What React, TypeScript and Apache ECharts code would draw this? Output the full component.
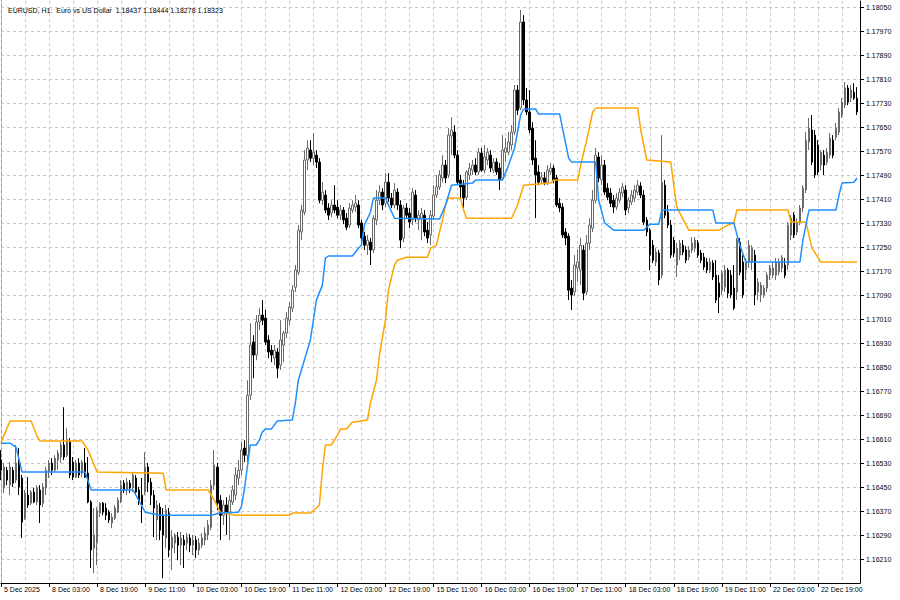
import React, { useEffect, useRef } from 'react';
import * as echarts from 'echarts';

const titleText = 'EURUSD, H1:  Euro vs US Dollar  1.18437 1.18444 1.18278 1.18323';

const opens = [
  1.16540, 1.16447, 1.16506, 1.16456, 1.16506, 1.16473, 1.16530, 1.16480, 1.16346, 1.16423,
  1.16396, 1.16433, 1.16400, 1.16440, 1.16396, 1.16447, 1.16500, 1.16530, 1.16506, 1.16540,
  1.16550, 1.16590, 1.16556, 1.16600, 1.16533, 1.16483, 1.16530, 1.16496, 1.16530, 1.16496,
  1.16400, 1.16246, 1.16266, 1.16363, 1.16396, 1.16380, 1.16366, 1.16330, 1.16346, 1.16366,
  1.16400, 1.16463, 1.16440, 1.16463, 1.16447, 1.16480, 1.16440, 1.16423, 1.16433, 1.16517,
  1.16466, 1.16423, 1.16340, 1.16383, 1.16356, 1.16280, 1.16363, 1.16246, 1.16263, 1.16283,
  1.16256, 1.16273, 1.16263, 1.16280, 1.16256, 1.16273, 1.16240, 1.16256, 1.16273, 1.16290,
  1.16316, 1.16456, 1.16516, 1.16406, 1.16356, 1.16390, 1.16366, 1.16400, 1.16423, 1.16480,
  1.16506, 1.16580, 1.16556, 1.16756, 1.16933, 1.16890, 1.17000, 1.17023, 1.17013, 1.16940,
  1.16906, 1.16880, 1.16900, 1.16856, 1.16923, 1.16963, 1.17006, 1.17046, 1.17116, 1.17166,
  1.17300, 1.17366, 1.17540, 1.17573, 1.17546, 1.17556, 1.17533, 1.17406, 1.17423, 1.17380,
  1.17363, 1.17390, 1.17383, 1.17356, 1.17373, 1.17346, 1.17323, 1.17373, 1.17383, 1.17390,
  1.17330, 1.17286, 1.17256, 1.17266, 1.17240, 1.17340, 1.17406, 1.17433, 1.17396, 1.17466,
  1.17413, 1.17390, 1.17433, 1.17390, 1.17280, 1.17380, 1.17363, 1.17340, 1.17423, 1.17340,
  1.17346, 1.17356, 1.17306, 1.17290, 1.17353, 1.17423, 1.17450, 1.17480, 1.17523, 1.17490,
  1.17620, 1.17633, 1.17556, 1.17473, 1.17456, 1.17416, 1.17490, 1.17506, 1.17523, 1.17500,
  1.17563, 1.17506, 1.17540, 1.17556, 1.17506, 1.17533, 1.17513, 1.17480, 1.17566, 1.17566,
  1.17590, 1.17633, 1.17773, 1.17713, 1.18000, 1.17740, 1.17700, 1.17646, 1.17546, 1.17500,
  1.17473, 1.17480, 1.17466, 1.17500, 1.17513, 1.17480, 1.17396, 1.17383, 1.17300, 1.17286,
  1.17113, 1.17100, 1.17180, 1.17173, 1.17240, 1.17100, 1.17263, 1.17313, 1.17406, 1.17550,
  1.17473, 1.17523, 1.17446, 1.17430, 1.17406, 1.17383, 1.17406, 1.17430, 1.17440, 1.17380,
  1.17400, 1.17413, 1.17433, 1.17453, 1.17423, 1.17340, 1.17306, 1.17256, 1.17200, 1.17230,
  1.17156, 1.17456, 1.17366, 1.17323, 1.17273, 1.17190, 1.17223, 1.17256, 1.17240, 1.17216,
  1.17240, 1.17246, 1.17263, 1.17230, 1.17216, 1.17200, 1.17173, 1.17196, 1.17156, 1.17130,
  1.17106, 1.17116, 1.17173, 1.17156, 1.17113, 1.17100, 1.17266, 1.17200, 1.17173, 1.17200,
  1.17200, 1.17223, 1.17100, 1.17090, 1.17090, 1.17113, 1.17156, 1.17156, 1.17156, 1.17166,
  1.17180, 1.17190, 1.17190, 1.17290, 1.17356, 1.17300, 1.17333, 1.17380, 1.17440, 1.17600,
  1.17640, 1.17623, 1.17590, 1.17523, 1.17556, 1.17533, 1.17556, 1.17606, 1.17616, 1.17633,
  1.17690, 1.17723, 1.17780, 1.17746, 1.17766, 1.17746
];

const closes = [
  1.16506, 1.16517, 1.16473, 1.16517, 1.16463, 1.16530, 1.16450, 1.16333, 1.16430, 1.16390,
  1.16433, 1.16400, 1.16447, 1.16390, 1.16450, 1.16506, 1.16530, 1.16506, 1.16546, 1.16563,
  1.16590, 1.16550, 1.16606, 1.16490, 1.16483, 1.16530, 1.16490, 1.16533, 1.16483, 1.16400,
  1.16240, 1.16290, 1.16373, 1.16396, 1.16366, 1.16356, 1.16340, 1.16350, 1.16380, 1.16406,
  1.16456, 1.16440, 1.16466, 1.16447, 1.16490, 1.16433, 1.16400, 1.16390, 1.16517, 1.16466,
  1.16423, 1.16380, 1.16390, 1.16306, 1.16290, 1.16373, 1.16240, 1.16283, 1.16290, 1.16256,
  1.16280, 1.16256, 1.16283, 1.16256, 1.16273, 1.16240, 1.16263, 1.16280, 1.16296, 1.16323,
  1.16456, 1.16523, 1.16396, 1.16356, 1.16390, 1.16366, 1.16406, 1.16440, 1.16490, 1.16506,
  1.16573, 1.16556, 1.16756, 1.16923, 1.16890, 1.17000, 1.17023, 1.17006, 1.16933, 1.16900,
  1.16890, 1.16906, 1.16846, 1.16940, 1.16963, 1.17013, 1.17050, 1.17106, 1.17173, 1.17306,
  1.17373, 1.17540, 1.17580, 1.17546, 1.17566, 1.17533, 1.17406, 1.17433, 1.17373, 1.17356,
  1.17390, 1.17373, 1.17356, 1.17373, 1.17340, 1.17316, 1.17380, 1.17390, 1.17396, 1.17323,
  1.17280, 1.17256, 1.17273, 1.17240, 1.17346, 1.17406, 1.17433, 1.17390, 1.17466, 1.17413,
  1.17390, 1.17440, 1.17390, 1.17273, 1.17380, 1.17356, 1.17333, 1.17433, 1.17346, 1.17356,
  1.17363, 1.17300, 1.17280, 1.17356, 1.17423, 1.17450, 1.17490, 1.17523, 1.17480, 1.17623,
  1.17640, 1.17556, 1.17466, 1.17450, 1.17413, 1.17500, 1.17513, 1.17523, 1.17500, 1.17566,
  1.17506, 1.17550, 1.17566, 1.17513, 1.17533, 1.17500, 1.17473, 1.17573, 1.17580, 1.17600,
  1.17633, 1.17773, 1.17706, 1.18000, 1.17740, 1.17700, 1.17640, 1.17540, 1.17490, 1.17466,
  1.17483, 1.17466, 1.17506, 1.17513, 1.17473, 1.17390, 1.17380, 1.17290, 1.17280, 1.17106,
  1.17090, 1.17190, 1.17200, 1.17256, 1.17096, 1.17263, 1.17323, 1.17406, 1.17556, 1.17480,
  1.17523, 1.17433, 1.17416, 1.17396, 1.17383, 1.17413, 1.17433, 1.17450, 1.17373, 1.17406,
  1.17423, 1.17440, 1.17456, 1.17423, 1.17333, 1.17300, 1.17223, 1.17206, 1.17233, 1.17140,
  1.17466, 1.17356, 1.17323, 1.17223, 1.17230, 1.17246, 1.17263, 1.17233, 1.17206, 1.17240,
  1.17263, 1.17273, 1.17223, 1.17206, 1.17183, 1.17173, 1.17200, 1.17150, 1.17073, 1.17083,
  1.17163, 1.17173, 1.17096, 1.17090, 1.17046, 1.17273, 1.17166, 1.17090, 1.17200, 1.17256,
  1.17246, 1.17090, 1.17133, 1.17123, 1.17113, 1.17156, 1.17180, 1.17180, 1.17200, 1.17200,
  1.17216, 1.17156, 1.17323, 1.17346, 1.17290, 1.17333, 1.17380, 1.17446, 1.17606, 1.17646,
  1.17533, 1.17490, 1.17500, 1.17566, 1.17523, 1.17566, 1.17613, 1.17556, 1.17646, 1.17700,
  1.17733, 1.17780, 1.17733, 1.17773, 1.17746, 1.17700
];

const lows = [
  1.16473, 1.16430, 1.16456, 1.16423, 1.16450, 1.16463, 1.16423, 1.16280, 1.16340, 1.16380,
  1.16390, 1.16396, 1.16390, 1.16330, 1.16383, 1.16423, 1.16480, 1.16490, 1.16500, 1.16506,
  1.16530, 1.16540, 1.16550, 1.16480, 1.16473, 1.16480, 1.16480, 1.16483, 1.16480, 1.16396,
  1.16180, 1.16163, 1.16190, 1.16350, 1.16356, 1.16340, 1.16330, 1.16313, 1.16340, 1.16363,
  1.16396, 1.16430, 1.16423, 1.16430, 1.16433, 1.16423, 1.16390, 1.16330, 1.16423, 1.16433,
  1.16390, 1.16283, 1.16273, 1.16273, 1.16146, 1.16246, 1.16216, 1.16173, 1.16230, 1.16206,
  1.16190, 1.16180, 1.16240, 1.16233, 1.16223, 1.16213, 1.16223, 1.16246, 1.16256, 1.16273,
  1.16306, 1.16440, 1.16373, 1.16273, 1.16323, 1.16290, 1.16273, 1.16390, 1.16406, 1.16456,
  1.16490, 1.16533, 1.16533, 1.16740, 1.16813, 1.16873, 1.16973, 1.16990, 1.16923, 1.16880,
  1.16866, 1.16856, 1.16813, 1.16840, 1.16866, 1.16946, 1.16990, 1.17033, 1.17100, 1.17156,
  1.17273, 1.17356, 1.17506, 1.17533, 1.17523, 1.17513, 1.17396, 1.17390, 1.17363, 1.17340,
  1.17350, 1.17363, 1.17346, 1.17340, 1.17326, 1.17306, 1.17313, 1.17363, 1.17366, 1.17313,
  1.17266, 1.17240, 1.17223, 1.17190, 1.17230, 1.17323, 1.17390, 1.17373, 1.17383, 1.17400,
  1.17380, 1.17380, 1.17373, 1.17246, 1.17266, 1.17346, 1.17313, 1.17323, 1.17333, 1.17306,
  1.17273, 1.17286, 1.17263, 1.17256, 1.17340, 1.17413, 1.17440, 1.17466, 1.17463, 1.17480,
  1.17556, 1.17546, 1.17456, 1.17413, 1.17380, 1.17406, 1.17473, 1.17490, 1.17490, 1.17490,
  1.17500, 1.17496, 1.17523, 1.17500, 1.17496, 1.17490, 1.17440, 1.17473, 1.17533, 1.17556,
  1.17573, 1.17623, 1.17690, 1.17706, 1.17723, 1.17690, 1.17630, 1.17523, 1.17346, 1.17456,
  1.17463, 1.17456, 1.17456, 1.17490, 1.17463, 1.17383, 1.17366, 1.17280, 1.17256, 1.17073,
  1.17040, 1.17086, 1.17133, 1.17123, 1.17073, 1.17090, 1.17240, 1.17300, 1.17396, 1.17466,
  1.17456, 1.17423, 1.17406, 1.17383, 1.17363, 1.17373, 1.17396, 1.17416, 1.17356, 1.17363,
  1.17390, 1.17400, 1.17423, 1.17413, 1.17323, 1.17286, 1.17173, 1.17196, 1.17186, 1.17123,
  1.17146, 1.17346, 1.17313, 1.17213, 1.17216, 1.17150, 1.17206, 1.17223, 1.17196, 1.17206,
  1.17230, 1.17233, 1.17213, 1.17196, 1.17173, 1.17163, 1.17163, 1.17140, 1.17063, 1.17030,
  1.17090, 1.17100, 1.17080, 1.17080, 1.17040, 1.17073, 1.17156, 1.17080, 1.17140, 1.17180,
  1.17173, 1.17056, 1.17073, 1.17066, 1.17080, 1.17100, 1.17140, 1.17146, 1.17140, 1.17156,
  1.17166, 1.17146, 1.17173, 1.17273, 1.17280, 1.17290, 1.17323, 1.17366, 1.17430, 1.17573,
  1.17523, 1.17480, 1.17490, 1.17506, 1.17490, 1.17523, 1.17546, 1.17546, 1.17606, 1.17623,
  1.17680, 1.17713, 1.17723, 1.17733, 1.17740, 1.17690
];

const highs = [
  1.16573, 1.16530, 1.16517, 1.16533, 1.16517, 1.16590, 1.16580, 1.16490, 1.16440, 1.16483,
  1.16440, 1.16447, 1.16456, 1.16456, 1.16463, 1.16517, 1.16540, 1.16546, 1.16556, 1.16573,
  1.16600, 1.16716, 1.16646, 1.16613, 1.16550, 1.16540, 1.16546, 1.16540, 1.16580, 1.16550,
  1.16406, 1.16380, 1.16383, 1.16400, 1.16400, 1.16396, 1.16373, 1.16363, 1.16390, 1.16416,
  1.16473, 1.16473, 1.16480, 1.16473, 1.16500, 1.16490, 1.16450, 1.16480, 1.16566, 1.16530,
  1.16480, 1.16440, 1.16406, 1.16396, 1.16380, 1.16390, 1.16380, 1.16306, 1.16296, 1.16300,
  1.16300, 1.16290, 1.16296, 1.16293, 1.16290, 1.16286, 1.16280, 1.16296, 1.16316, 1.16340,
  1.16473, 1.16573, 1.16530, 1.16423, 1.16406, 1.16416, 1.16423, 1.16456, 1.16516, 1.16540,
  1.16600, 1.16606, 1.16806, 1.16996, 1.16956, 1.17023, 1.17046, 1.17073, 1.17040, 1.16956,
  1.16923, 1.16923, 1.16913, 1.17006, 1.16970, 1.17033, 1.17066, 1.17123, 1.17190, 1.17323,
  1.17390, 1.17573, 1.17606, 1.17606, 1.17630, 1.17573, 1.17546, 1.17466, 1.17440, 1.17396,
  1.17406, 1.17456, 1.17406, 1.17390, 1.17383, 1.17363, 1.17396, 1.17406, 1.17423, 1.17406,
  1.17340, 1.17300, 1.17290, 1.17280, 1.17356, 1.17440, 1.17456, 1.17446, 1.17496, 1.17496,
  1.17430, 1.17463, 1.17446, 1.17406, 1.17390, 1.17396, 1.17380, 1.17446, 1.17440, 1.17373,
  1.17380, 1.17373, 1.17333, 1.17373, 1.17456, 1.17490, 1.17506, 1.17556, 1.17540, 1.17646,
  1.17683, 1.17656, 1.17573, 1.17490, 1.17473, 1.17506, 1.17530, 1.17540, 1.17546, 1.17580,
  1.17580, 1.17590, 1.17580, 1.17573, 1.17546, 1.17546, 1.17530, 1.17623, 1.17613, 1.17633,
  1.17656, 1.17790, 1.17790, 1.18040, 1.18023, 1.17780, 1.17773, 1.17666, 1.17606, 1.17523,
  1.17500, 1.17500, 1.17523, 1.17530, 1.17523, 1.17490, 1.17413, 1.17396, 1.17313, 1.17296,
  1.17140, 1.17223, 1.17240, 1.17280, 1.17256, 1.17290, 1.17346, 1.17440, 1.17580, 1.17566,
  1.17556, 1.17540, 1.17463, 1.17446, 1.17423, 1.17430, 1.17446, 1.17463, 1.17456, 1.17416,
  1.17440, 1.17456, 1.17473, 1.17466, 1.17440, 1.17350, 1.17313, 1.17273, 1.17246, 1.17240,
  1.17623, 1.17473, 1.17390, 1.17340, 1.17283, 1.17263, 1.17273, 1.17273, 1.17253, 1.17253,
  1.17283, 1.17283, 1.17273, 1.17240, 1.17230, 1.17213, 1.17213, 1.17206, 1.17206, 1.17156,
  1.17173, 1.17190, 1.17180, 1.17173, 1.17190, 1.17280, 1.17280, 1.17223, 1.17213, 1.17273,
  1.17256, 1.17240, 1.17146, 1.17133, 1.17123, 1.17166, 1.17190, 1.17200, 1.17213, 1.17213,
  1.17223, 1.17213, 1.17333, 1.17356, 1.17366, 1.17346, 1.17390, 1.17456, 1.17633, 1.17680,
  1.17690, 1.17640, 1.17606, 1.17573, 1.17573, 1.17580, 1.17630, 1.17623, 1.17663, 1.17713,
  1.17746, 1.17800, 1.17790, 1.17790, 1.17796, 1.17783
];

// [bar index, price]
const blueLine = [
  [0, 1.16596], [3, 1.16596], [5, 1.16583], [7, 1.16500], [28, 1.16500], [30, 1.16440], [44, 1.16440],
  [48, 1.16366], [53, 1.16356], [70, 1.16356], [73, 1.16363], [79, 1.16366], [80, 1.16383], [81, 1.16440],
  [83, 1.16590], [85, 1.16590], [86, 1.16606], [87, 1.16633], [88, 1.16643], [90, 1.16643], [92, 1.16670],
  [97, 1.16673], [98, 1.16730], [99, 1.16806], [103, 1.16940], [105, 1.17073], [107, 1.17123], [108, 1.17213],
  [109, 1.17220], [117, 1.17220], [119, 1.17246], [120, 1.17256], [121, 1.17323], [123, 1.17366], [124, 1.17413],
  [128, 1.17413], [131, 1.17346], [146, 1.17343], [148, 1.17390], [150, 1.17456], [157, 1.17463], [158, 1.17473],
  [167, 1.17473], [169, 1.17523], [171, 1.17580], [173, 1.17690], [174, 1.17710], [178, 1.17710], [179, 1.17693],
  [186, 1.17693], [189, 1.17546], [190, 1.17533], [198, 1.17533], [199, 1.17406], [201, 1.17330], [204, 1.17306],
  [214, 1.17306], [216, 1.17326], [219, 1.17326], [220, 1.17373], [237, 1.17373], [238, 1.17330], [244, 1.17330],
  [246, 1.17256], [248, 1.17200], [266, 1.17200], [267, 1.17273], [269, 1.17373], [278, 1.17373], [279, 1.17423],
  [280, 1.17463], [284, 1.17466], [285, 1.17480]
];

const orangeLine = [
  [0, 1.16596], [1, 1.16623], [3, 1.16670], [10, 1.16670], [12, 1.16620], [13, 1.16603], [27, 1.16603],
  [29, 1.16573], [32, 1.16500], [54, 1.16496], [55, 1.16440], [69, 1.16440], [71, 1.16406], [73, 1.16366],
  [78, 1.16356], [96, 1.16356], [97, 1.16363], [103, 1.16363], [105, 1.16380], [106, 1.16390], [107, 1.16506],
  [108, 1.16590], [110, 1.16590], [112, 1.16623], [113, 1.16643], [115, 1.16643], [117, 1.16666], [122, 1.16673],
  [123, 1.16730], [125, 1.16806], [126, 1.16890], [128, 1.17006], [129, 1.17106], [131, 1.17190], [132, 1.17206],
  [135, 1.17216], [142, 1.17216], [143, 1.17246], [145, 1.17256], [146, 1.17300], [147, 1.17340], [148, 1.17390],
  [149, 1.17413], [153, 1.17413], [154, 1.17373], [155, 1.17346], [170, 1.17346], [172, 1.17390], [174, 1.17456],
  [183, 1.17463], [184, 1.17473], [192, 1.17473], [193, 1.17523], [195, 1.17606], [197, 1.17700], [198, 1.17713],
  [212, 1.17713], [213, 1.17640], [215, 1.17540], [223, 1.17533], [224, 1.17456], [225, 1.17383], [229, 1.17306],
  [239, 1.17306], [242, 1.17323], [244, 1.17330], [245, 1.17373], [262, 1.17373], [263, 1.17333], [268, 1.17333],
  [269, 1.17290], [270, 1.17246], [273, 1.17200], [285, 1.17200]
];

const xTickLabels = [
  '5 Dec 2025', '8 Dec 03:00', '8 Dec 19:00', '9 Dec 11:00', '10 Dec 03:00', '10 Dec 19:00',
  '11 Dec 11:00', '12 Dec 03:00', '12 Dec 19:00', '15 Dec 11:00', '16 Dec 03:00', '16 Dec 19:00',
  '17 Dec 11:00', '18 Dec 03:00', '18 Dec 19:00', '19 Dec 11:00', '22 Dec 03:00', '22 Dec 19:00'
];

const yTickValues = [
  1.16210, 1.16290, 1.16370, 1.16450, 1.16530, 1.16610, 1.16690, 1.16770, 1.16850, 1.16930,
  1.17010, 1.17090, 1.17170, 1.17250, 1.17330, 1.17410, 1.17490, 1.17570, 1.17650, 1.17730,
  1.17810, 1.17890, 1.17970, 1.18050
];

const MONTHS = ['Jan', 'Feb', 'Mar', 'Apr', 'May', 'Jun', 'Jul', 'Aug', 'Sep', 'Oct', 'Nov', 'Dec'];

function buildCategories(count: number): string[] {
  const out: string[] = [];
  let t = Date.UTC(2025, 11, 5, 11);
  while (out.length < count) {
    const d = new Date(t);
    const wd = d.getUTCDay();
    if (wd !== 0 && wd !== 6) {
      out.push(`${d.getUTCDate()} ${MONTHS[d.getUTCMonth()]} ${String(d.getUTCHours()).padStart(2, '0')}:00`);
    }
    t += 3600000;
  }
  return out;
}

const FONT = 'Liberation Sans';

export default function App() {
  const ref = useRef<HTMLDivElement>(null);

  useEffect(() => {
    if (!ref.current) return;
    const chart = echarts.init(ref.current, null, { renderer: 'svg' });
    const categories = buildCategories(opens.length + 1);
    const candles = opens.map((o, i) => [o, closes[i], lows[i], highs[i]]);
    const gridLine = { color: '#c8c8c8', width: 1, type: [3, 3] as number[] };

    chart.setOption({
      animation: false,
      backgroundColor: '#ffffff',
      textStyle: { fontFamily: FONT },
      title: {
        text: titleText,
        left: 3,
        top: 2,
        textStyle: { fontSize: 7, fontWeight: 'normal', color: '#000', fontFamily: FONT },
      },
      grid: { left: 1, right: 40, top: 1, bottom: 17 },
      xAxis: {
        type: 'category',
        data: categories,
        boundaryGap: false,
        axisLine: { show: true, lineStyle: { color: '#000', width: 1 } },
        axisTick: { show: true, interval: 15, length: 4, lineStyle: { color: '#000' } },
        axisLabel: {
          interval: 15,
          align: 'left',
          margin: 3,
          fontSize: 7,
          color: '#000',
          fontFamily: FONT,
          padding: [0, 0, 0, 3],
          formatter: (_v: string, idx: number) => (idx % 16 === 0 && xTickLabels[idx / 16]) || '',
        },
        splitLine: { show: true, interval: 7, lineStyle: gridLine },
      },
      yAxis: {
        type: 'value',
        position: 'right',
        min: 1.1613,
        max: 1.1807,
        axisLine: { show: true, lineStyle: { color: '#000', width: 1 } },
        axisTick: { show: true, length: 4, customValues: yTickValues, lineStyle: { color: '#000' } },
        axisLabel: {
          customValues: yTickValues,
          formatter: (v: number) => v.toFixed(5),
          fontSize: 7,
          color: '#000',
          fontFamily: FONT,
          margin: 6,
        },
        splitLine: { show: true, lineStyle: gridLine },
      },
      graphic: [
        { type: 'line', shape: { x1: 1.5, y1: 0, x2: 1.5, y2: 583 }, style: { stroke: '#9a9a9a', lineWidth: 1 }, silent: true },
      ],
      series: [
        {
          type: 'candlestick',
          data: candles,
          barWidth: 2,
          z: 2,
          itemStyle: {
            color: '#ffffff',
            color0: '#000000',
            borderColor: '#6a6a6a',
            borderColor0: '#000000',
            borderWidth: 1,
          },
        },
        {
          type: 'line',
          data: orangeLine,
          showSymbol: false,
          symbol: 'none',
          z: 3,
          lineStyle: { color: '#FFA500', width: 1.5 },
        },
        {
          type: 'line',
          data: blueLine,
          showSymbol: false,
          symbol: 'none',
          z: 3,
          lineStyle: { color: '#1E90FF', width: 1.5 },
        },
      ],
    });
    return () => chart.dispose();
  }, []);

  return <div ref={ref} style={{ position: 'fixed', left: 0, top: 0, width: 900, height: 600 }} />;
}
